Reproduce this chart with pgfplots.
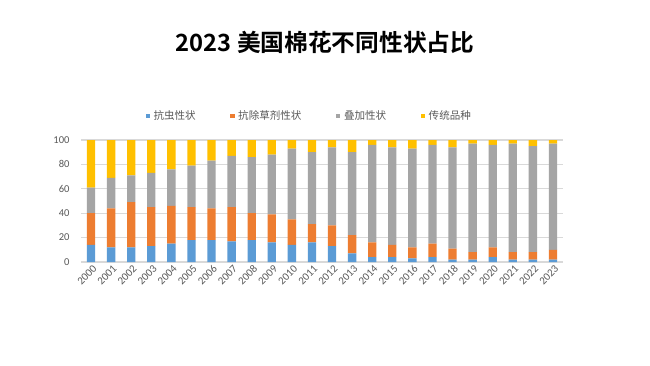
\documentclass[border=0pt]{standalone}
\usepackage{fontspec}
\usepackage{pgfplots}
\usepackage{pgfplotstable}
\pgfplotsset{compat=1.18}
\setmainfont{Carlito}
\newfontfamily\cjk{Noto Sans CJK SC}
\newfontfamily\cjkb{Noto Sans CJK SC Bold}
\definecolor{cblue}{HTML}{5B9BD5}
\definecolor{corange}{HTML}{ED7D31}
\definecolor{cgray}{HTML}{A5A5A5}
\definecolor{cyellow}{HTML}{FFC000}
\definecolor{ticktext}{HTML}{595959}
\definecolor{gridc}{HTML}{D9D9D9}
\pgfplotstableread{
x year blue orange gray yellow
0 2000 14 26 21 39
1 2001 12 32 25 31
2 2002 12 37 22 29
3 2003 13 32 28 27
4 2004 15 31 30 24
5 2005 18 27 34 21
6 2006 18 26 39 17
7 2007 17 28 42 13
8 2008 18 22 46 14
9 2009 16 23 49 12
10 2010 14 21 58 7
11 2011 16 15 59 10
12 2012 13 17 64 6
13 2013 7 15 68 10
14 2014 4 12 80 4
15 2015 4 10 80 6
16 2016 3 9 81 7
17 2017 4 11 81 4
18 2018 2 9 83 6
19 2019 2 6 89 3
20 2020 4 8 84 4
21 2021 2 6 89 3
22 2022 2 6 87 5
23 2023 2 8 87 3
}\datatable
\begin{document}
\begin{tikzpicture}
\fill[white] (0,0) rectangle (13cm,7.3cm);
\node[font=\cjkb\fontsize{13.5pt}{15pt}\selectfont] at (6.5cm,6.46cm) {2023 美国棉花不同性状占比};
\begin{axis}[
  at={(1.62cm,2.06cm)}, anchor=south west,
  scale only axis, width=9.64cm, height=2.44cm,
  ybar stacked, bar width=0.166cm,
  xmin=-0.5, xmax=23.5, ymin=0, ymax=100,
  xtick=data,
  xticklabels={2000,2001,2002,2003,2004,2005,2006,2007,2008,2009,2010,2011,2012,2013,2014,2015,2016,2017,2018,2019,2020,2021,2022,2023},
  ytick={0,20,40,60,80,100},
  ymajorgrids, grid style={gridc, line width=0.6pt},
  axis line style={draw=none},
  axis x line*=bottom,
  x axis line style={draw=gridc, line width=0.6pt},
  major tick length=0pt,
  tick label style={text=ticktext},
  yticklabel style={font=\fontsize{6pt}{7pt}\selectfont, xshift=-3pt},
  /pgf/number format/assume math mode=true,
  xticklabel style={font=\fontsize{6.2pt}{7pt}\selectfont, rotate=45, anchor=east, xshift=3pt, yshift=-3.5pt},
  legend columns=4,
  legend style={draw=none, fill=none, at={(0.475,1.197)}, anchor=center,
    font=\cjk\fontsize{6pt}{7pt}\selectfont, text=ticktext,
    /tikz/every even column/.append style={column sep=0.62cm}},
  legend image code/.code={\fill[#1] (0.05cm,-0.045cm) rectangle (0.14cm,0.045cm);},
]
\addplot[fill=cblue, draw=none] table[x=x, y=blue] {\datatable};
\addplot[fill=corange, draw=none] table[x=x, y=orange] {\datatable};
\addplot[fill=cgray, draw=none] table[x=x, y=gray] {\datatable};
\addplot[fill=cyellow, draw=none] table[x=x, y=yellow] {\datatable};
\legend{抗虫性状, 抗除草剂性状, 叠加性状, 传统品种}
\end{axis}
\end{tikzpicture}
\end{document}
